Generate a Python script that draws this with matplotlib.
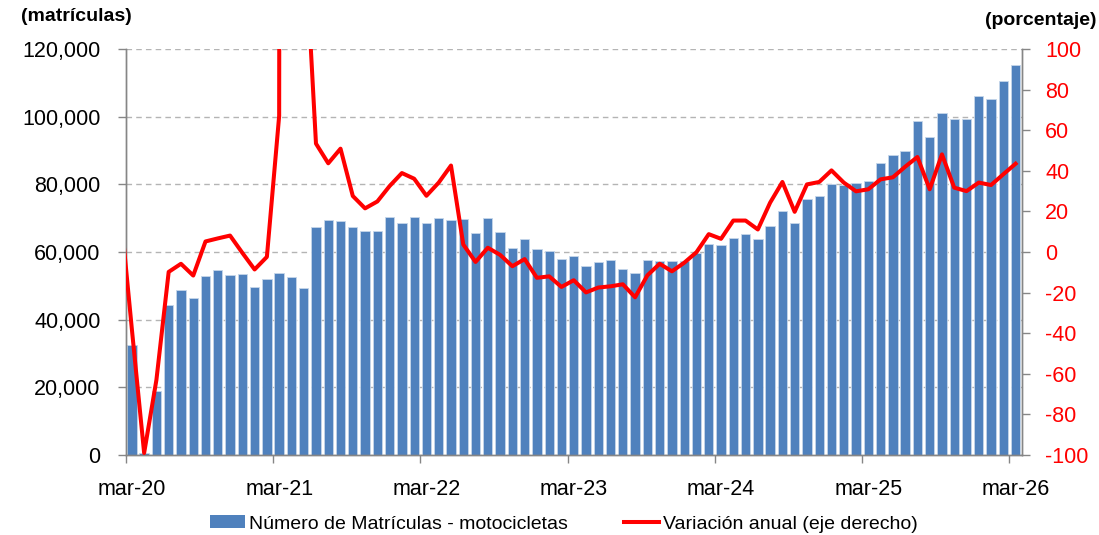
import matplotlib
matplotlib.use('Agg')
import matplotlib.pyplot as plt
import numpy as np
from matplotlib.ticker import FuncFormatter
from matplotlib.patches import Patch
from matplotlib.lines import Line2D

plt.rcParams['font.family'] = ['Liberation Sans', 'DejaVu Sans']
plt.rcParams['axes.unicode_minus'] = False

# monthly registrations, mar-20 .. mar-26
matriculas = [32400, 500, 19000, 44200, 48700, 46300, 53000, 54800, 53300, 53500, 49700, 52100,
              53900, 52500, 49300, 67400, 69400, 69200, 67300, 66300, 66200, 70400, 68500, 70400,
              68500, 70000, 69600, 69700, 65700, 70200, 65800, 61300, 63700, 60900, 60300, 57800,
              58700, 55900, 57000, 57700, 55000, 53900, 57700, 57400, 57200, 57400, 59800, 62400,
              62100, 64100, 65200, 63700, 67800, 72100, 68700, 75800, 76600, 80000, 79700, 80500,
              81000, 86400, 88700, 89800, 98800, 94000, 101000, 99300, 99200, 106000, 105200, 110400,
              115400]

# annual change (%), feb-20 .. mar-26 (first point lies left of the axis)
variacion = [24.7, -38.0, -99.0, -63.0, -9.8, -5.8, -11.6, 5.2, 6.7, 8.1, -0.4, -8.6, -2.4,
             67.0, 5000.0, 165.0, 53.4, 43.7, 50.9, 27.6, 21.5, 24.9, 32.5, 38.9, 36.1,
             27.7, 34.2, 42.6, 3.7, -4.9, 2.1, -1.4, -7.0, -3.5, -12.7, -12.0, -17.2,
             -13.9, -19.9, -17.5, -16.9, -15.9, -22.3, -11.5, -5.8, -9.5, -5.3, -0.1, 8.8,
             6.5, 15.5, 15.5, 11.1, 24.3, 34.5, 19.8, 33.3, 34.5, 40.2, 34.2, 29.9,
             30.9, 35.8, 36.8, 42.0, 46.8, 30.9, 48.1, 31.7, 30.0, 34.2, 33.0, 38.3,
             43.5]

tick_labels = ['mar-20', 'mar-21', 'mar-22', 'mar-23', 'mar-24', 'mar-25', 'mar-26']

blue = '#4f81bd'
grey = '#868686'

x = np.arange(len(matriculas))
xv = np.arange(len(variacion)) - 1

fig = plt.figure(figsize=(10.99, 5.35), dpi=100)
ax = fig.add_axes([0.1144, 0.1495, 0.8153, 0.7589])
ax.bar(x, matriculas, width=0.76, color=blue, edgecolor='#c6d6ea', linewidth=0.6, zorder=2)
ax.set_xlim(-0.5, len(matriculas) - 0.5)
ax.set_ylim(0, 120000)
ax.set_yticks(range(0, 120001, 20000))
ax.yaxis.set_major_formatter(FuncFormatter(lambda v, p: f'{v:,.0f}'))
ax.yaxis.grid(True, linestyle=(0, (4, 3)), color='#b4b4b4', linewidth=1.0)
ax.set_axisbelow(True)

ax.set_xticks(x[::12])
ax.set_xticklabels(tick_labels)
ax.set_xticks(x[::12] - 0.5, minor=True)
ax.tick_params(axis='x', which='major', length=0, pad=17, labelsize=15.5)
ax.tick_params(axis='x', which='minor', length=6, color=grey, width=1)
ax.tick_params(axis='y', length=6, color=grey, width=1, pad=12, labelsize=15.5)

ax2 = ax.twinx()
ax2.plot(xv, variacion, color='red', linewidth=2.9, zorder=3)
ax2.set_xlim(-0.5, len(matriculas) - 0.5)
ax2.set_ylim(-100, 100)
ax2.set_yticks(range(-100, 101, 20))
ax2.tick_params(axis='y', length=6, color=grey, width=1, pad=11, labelsize=15.5, labelcolor='red')

for a in (ax, ax2):
    a.spines['top'].set_visible(False)
    for s in ('left', 'right', 'bottom'):
        a.spines[s].set_color(grey)
        a.spines[s].set_linewidth(1)

fig.text(76 / 1099, 1 - 16.5 / 535, '(matrículas)', ha='center', va='center',
         fontweight='bold', fontsize=14)
fig.text(1041 / 1099, 1 - 20.5 / 535, '(porcentaje)', ha='center', va='center',
         fontweight='bold', fontsize=14)

handles = [Patch(facecolor=blue, edgecolor='none'),
           Line2D([], [], color='red', linewidth=2.9)]
fig.legend(handles, ['Número de Matrículas - motocicletas', 'Variación anual (eje derecho)'],
           loc='center', bbox_to_anchor=(564 / 1099, 1 - 524 / 535), ncol=2, frameon=False,
           fontsize=14, handlelength=1.8, handleheight=0.65, handletextpad=0.2,
           columnspacing=2.9)

fig.savefig('out.png', dpi=100)
